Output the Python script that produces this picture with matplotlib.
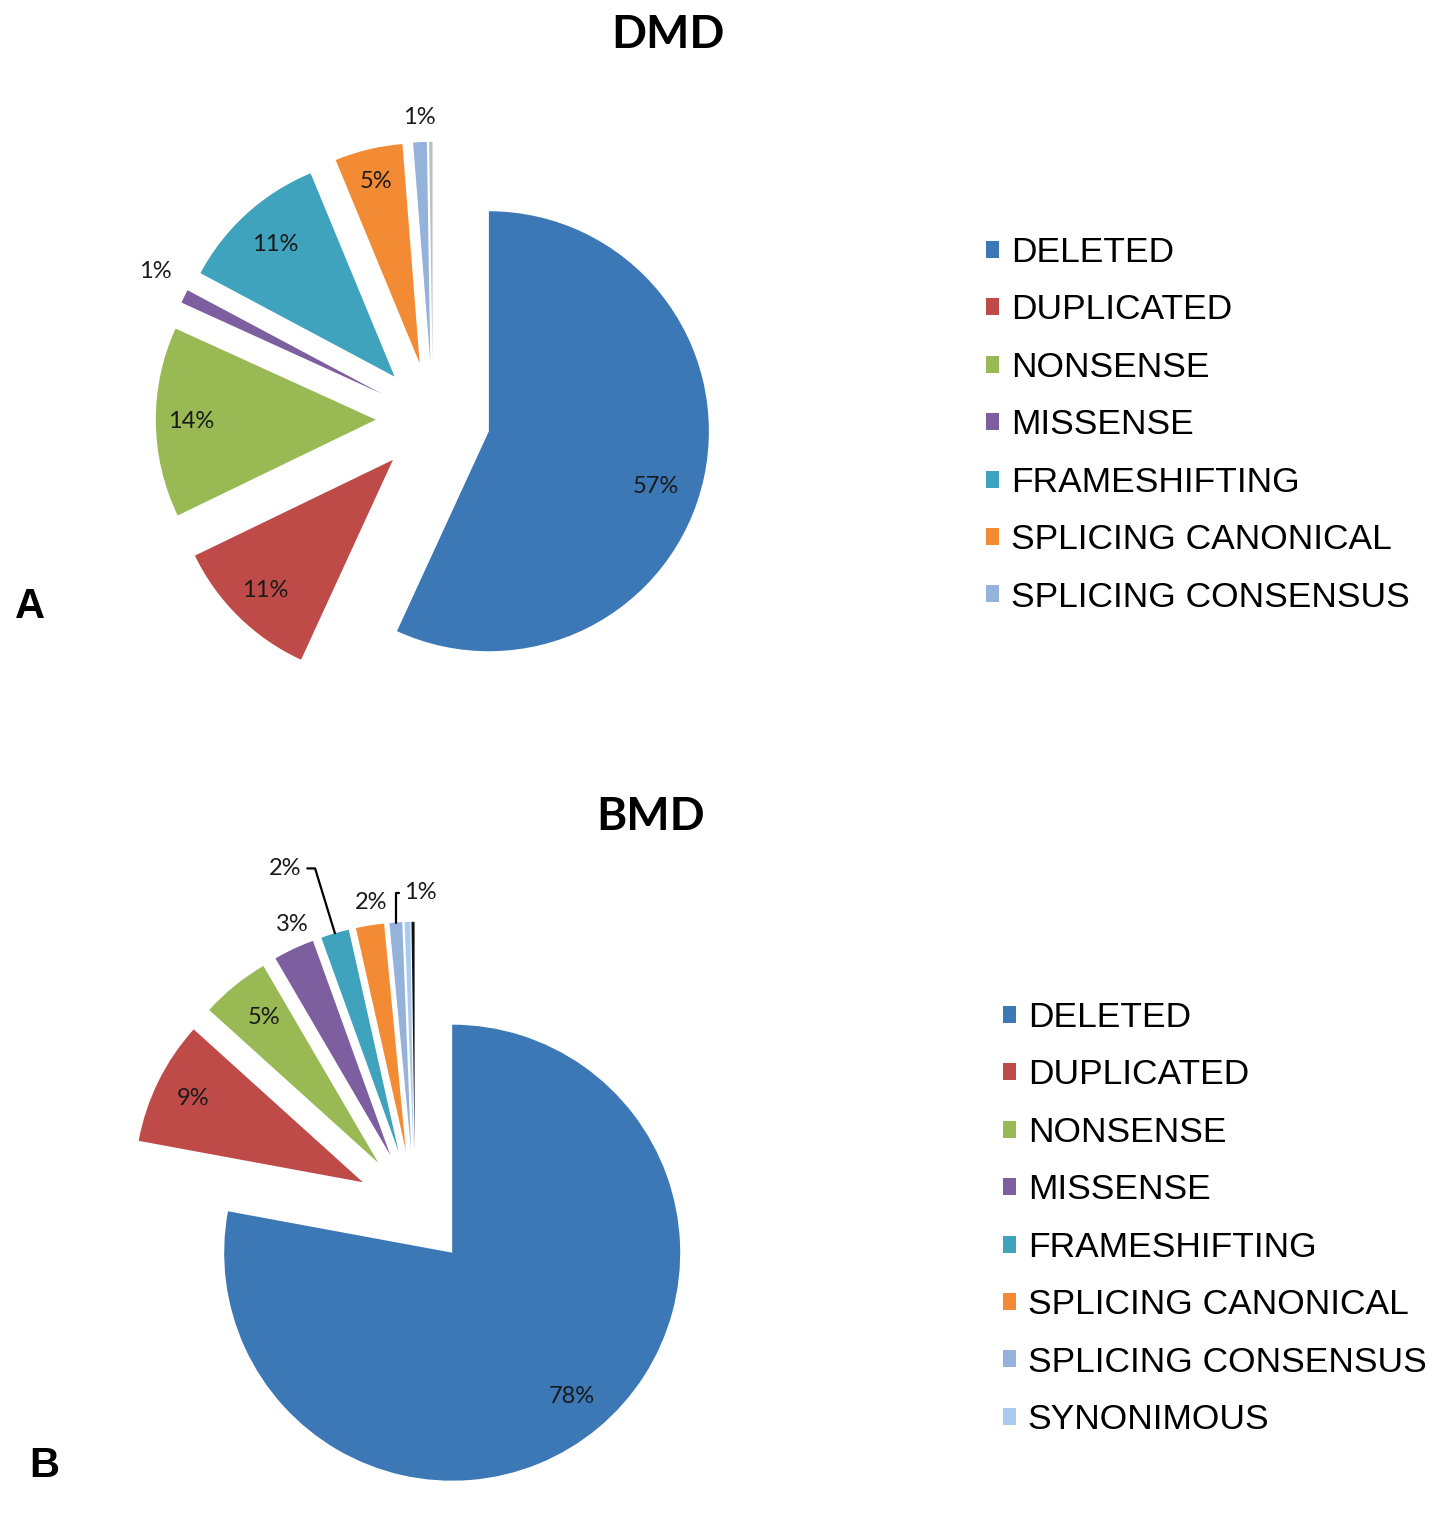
import numpy as np
import matplotlib
matplotlib.use('Agg')
import matplotlib.pyplot as plt

W, H = 1447, 1513

categories = ['DELETED', 'DUPLICATED', 'NONSENSE', 'MISSENSE', 'FRAMESHIFTING',
              'SPLICING CANONICAL', 'SPLICING CONSENSUS', 'SYNONIMOUS']

# DMD: last slice is a near-zero one drawn as a thin line, not in the legend
dmd_values = [57, 11, 14, 1, 11, 5, 1, 0.25]
dmd_text = ['57%', '11%', '14%', '1%', '11%', '5%', '1%', '']

# BMD: synonymous + an extra near-zero slice (black line)
bmd_values = [78, 8.8, 4.9, 2.9, 2.0, 2.0, 0.9, 0.4, 0.22]
bmd_text = ['78%', '9%', '5%', '3%', '2%', '2%', '1%', '', '']

colors = ['#3C78B5', '#BE4B48', '#98B954', '#7D5FA0', '#3FA3BD',
          '#F38B35', '#94B2DA', '#A9CBF0']
dmd_colors = colors[:7] + ['#BFBFBF']
bmd_colors = colors + ['#111111']

fig = plt.figure(figsize=(W / 100, H / 100), dpi=100)
fig.set_facecolor('white')


def set_view(ax, y0, y1, cx, cy, r):
    # strip of the figure between pixel rows y0..y1, pie center at (cx, cy) px, radius r px
    ax.set_position([0, 1 - y1 / H, 1, (y1 - y0) / H])
    ax.set_aspect('auto')
    ax.set_xlim(-cx / r, (W - cx) / r)
    ax.set_ylim(-(y1 - cy) / r, (cy - y0) / r)
    ax.axis('off')


def put_labels(ax, wedges, texts, rfrac, dtheta):
    for w, t, f, dt in zip(wedges, texts, rfrac, dtheta):
        if not t or f == 0:
            continue
        mid = np.radians((w.theta1 + w.theta2) / 2 + dt)
        x = w.center[0] + f * w.r * np.cos(mid)
        y = w.center[1] + f * w.r * np.sin(mid)
        ax.text(x, y, t, ha='center', va='center', fontsize=17,
                family='Lato', color='#1a1a1a')


# ---- A: DMD ----
ax1 = fig.add_axes([0, 0.5, 1, 0.5])
w1, _ = ax1.pie(dmd_values, colors=dmd_colors, startangle=90, counterclock=False,
                explode=[0.26] * len(dmd_values), radius=1,
                wedgeprops=dict(linewidth=0))
set_view(ax1, 0, 756, 433, 419, 220)
put_labels(ax1, w1, dmd_text,
           [0.80, 0.83, 0.84, 1.17, 0.81, 0.85, 1.11, 0],
           [-6, 0, 0, -2, 0, 0, 0, 0])

# ---- B: BMD ----
ax2 = fig.add_axes([0, 0, 1, 0.5])
w2, _ = ax2.pie(bmd_values, colors=bmd_colors, startangle=90, counterclock=False,
                explode=[0.255] * len(bmd_values), radius=1,
                wedgeprops=dict(linewidth=0))
set_view(ax2, 756, H, 415, 1208, 228)
put_labels(ax2, w2, bmd_text,
           [0.82, 0.83, 0.81, 1.10, 0, 1.10, 0, 0, 0],
           [0, 0, -1, -2, 0, -1, 0, 0, 0])

# labels with leader lines (frameshifting 2%, splicing consensus 1%)
for i, f, dt, rel, angB in [(4, 1.34, 5.5, (1, 0.5), 107), (6, 1.13, -6, (0, 0.5), 90)]:
    w = w2[i]
    mid = np.radians((w.theta1 + w.theta2) / 2)
    px = w.center[0] + w.r * np.cos(mid)
    py = w.center[1] + w.r * np.sin(mid)
    lm = mid + np.radians(dt)
    tx = w.center[0] + f * w.r * np.cos(lm)
    ty = w.center[1] + f * w.r * np.sin(lm)
    ax2.annotate(bmd_text[i], xy=(px, py), xytext=(tx, ty), ha='center', va='center',
                 fontsize=17, family='Lato', color='#1a1a1a',
                 arrowprops=dict(arrowstyle='-', color='black', lw=1.6,
                                 shrinkA=2, shrinkB=0, relpos=rel,
                                 connectionstyle='angle,angleA=0,angleB=%d,rad=0' % angB))

# titles and panel letters
fig.text(668 / W, 1 - 35 / H, 'DMD', ha='center', va='center', fontsize=33,
         fontweight='bold', family='Lato')
fig.text(651 / W, 1 - 817 / H, 'BMD', ha='center', va='center', fontsize=33,
         fontweight='bold', family='Lato')
fig.text(30 / W, 1 - 607 / H, 'A', ha='center', va='center', fontsize=30,
         fontweight='bold', family='Liberation Sans')
fig.text(44 / W, 1 - 1466 / H, 'B', ha='center', va='center', fontsize=30,
         fontweight='bold', family='Liberation Sans')

# legends
leg_kw = dict(loc='upper left', frameon=False, borderpad=0, borderaxespad=0,
              handlelength=0.36, handleheight=0.36, handletextpad=0.34,
              labelspacing=0.69, prop={'family': 'Liberation Sans', 'size': 25.5})
fig.legend(w1[:7], categories[:7], bbox_to_anchor=(986 / W, 1 - 236 / H), **leg_kw)
fig.legend(w2[:8], categories[:8], bbox_to_anchor=(1003 / W, 1 - 1001 / H), **leg_kw)

fig.savefig('out.png', dpi=100, facecolor='white')
